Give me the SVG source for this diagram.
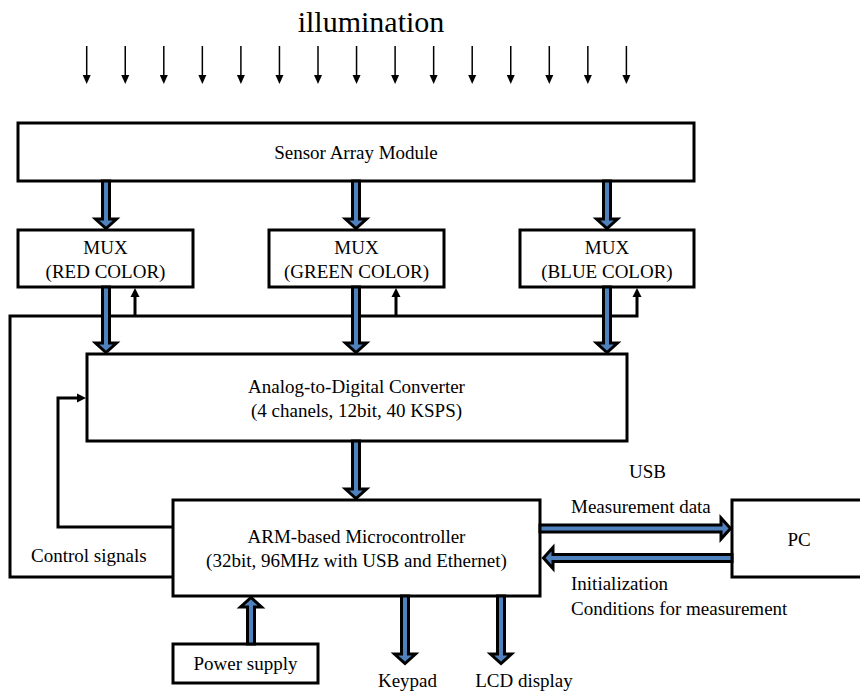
<svg xmlns="http://www.w3.org/2000/svg" xmlns:xlink="http://www.w3.org/1999/xlink" width="860" height="691" viewBox="0 0 860 691">
<style>
  .box { fill: #ffffff; stroke: #000000; stroke-width: 3; }
  .t { font-family: 'Liberation Serif', 'DejaVu Serif', serif; font-size: 19px; fill: #000000; }
  .c { text-anchor: middle; }
  .big { font-size: 30px; }
  .fat { fill: #4F81BD; stroke: #000000; stroke-width: 3; stroke-linejoin: miter; }
  .thin { fill: none; stroke: #000000; stroke-width: 3; stroke-linejoin: miter; }
  .head { fill: #000000; stroke: none; }
  .ill { stroke: #000000; stroke-width: 1.5; }
</style>
<defs>
  <g id="illArrow">
    <line class="ill" x1="0" y1="46" x2="0" y2="78"/>
    <path class="head" d="M-4,75 L0,84 L4,75 Z"/>
  </g>
</defs>
<rect width="860" height="691" fill="#ffffff"/>

<g id="illumination">
  <text class="t c big" x="371" y="32">illumination</text>
  <use xlink:href="#illArrow" x="86.7"/>
  <use xlink:href="#illArrow" x="125.25"/>
  <use xlink:href="#illArrow" x="163.8"/>
  <use xlink:href="#illArrow" x="202.35"/>
  <use xlink:href="#illArrow" x="240.9"/>
  <use xlink:href="#illArrow" x="279.45"/>
  <use xlink:href="#illArrow" x="318"/>
  <use xlink:href="#illArrow" x="356.55"/>
  <use xlink:href="#illArrow" x="395.1"/>
  <use xlink:href="#illArrow" x="433.65"/>
  <use xlink:href="#illArrow" x="472.2"/>
  <use xlink:href="#illArrow" x="510.75"/>
  <use xlink:href="#illArrow" x="549.3"/>
  <use xlink:href="#illArrow" x="587.85"/>
  <use xlink:href="#illArrow" x="626.4"/>
</g>

<g id="sensor">
  <rect class="box" x="18" y="123" width="676" height="58"/>
  <text class="t c" x="356" y="159">Sensor Array Module</text>
</g>

<g id="mux-red">
  <rect class="box" x="18" y="230" width="175" height="57"/>
  <text class="t c" x="105.5" y="254">MUX</text>
  <text class="t c" x="105.5" y="278">(RED COLOR)</text>
</g>

<g id="mux-green">
  <rect class="box" x="269" y="230" width="175" height="57"/>
  <text class="t c" x="356.5" y="254">MUX</text>
  <text class="t c" x="356.5" y="278">(GREEN COLOR)</text>
</g>

<g id="mux-blue">
  <rect class="box" x="520" y="230" width="174" height="57"/>
  <text class="t c" x="607" y="254">MUX</text>
  <text class="t c" x="607" y="278">(BLUE COLOR)</text>
</g>

<g id="adc">
  <rect class="box" x="87" y="354" width="540" height="87"/>
  <text class="t c" x="356.5" y="393">Analog-to-Digital Converter</text>
  <text class="t c" x="356.5" y="417">(4 chanels, 12bit, 40 KSPS)</text>
</g>

<g id="mcu">
  <rect class="box" x="173" y="500" width="367" height="96"/>
  <text class="t c" x="356.5" y="543">ARM-based Microcontroller</text>
  <text class="t c" x="356.5" y="567">(32bit, 96MHz with USB and Ethernet)</text>
</g>

<g id="pc">
  <rect class="box" x="732" y="500" width="140" height="77"/>
  <text class="t c" x="799" y="546">PC</text>
</g>

<g id="power">
  <rect class="box" x="173" y="644" width="145" height="39"/>
  <text class="t c" x="245.5" y="670">Power supply</text>
</g>

<g id="keypad">
  <text class="t c" x="407.5" y="687">Keypad</text>
</g>

<g id="lcd">
  <text class="t c" x="524" y="687">LCD display</text>
</g>

<g id="connectors">
  <path class="thin" d="M173,577 H10 V316 H637 V296"/>
  <path class="thin" d="M135,316 V296"/>
  <path class="thin" d="M396,316 V296"/>
  <path class="head" d="M130.5,297 L135,288 L139.5,297 Z"/>
  <path class="head" d="M391.5,297 L396,288 L400.5,297 Z"/>
  <path class="head" d="M632.5,297 L637,288 L641.5,297 Z"/>
  <path class="thin" d="M173,527 H58 V398 H78"/>
  <path class="head" d="M77,393.5 L86,398 L77,402.5 Z"/>

  <path class="fat" d="M102.5,181 H109.5 V219 H116.5 L106,228.5 L95.5,219 H102.5 Z"/>
  <path class="fat" d="M352.5,181 H359.5 V219 H366.5 L356,228.5 L345.5,219 H352.5 Z"/>
  <path class="fat" d="M603.5,181 H610.5 V219 H617.5 L607,228.5 L596.5,219 H603.5 Z"/>
  <path class="fat" d="M102.5,287 H109.5 V343 H116.5 L106,352.5 L95.5,343 H102.5 Z"/>
  <path class="fat" d="M352.5,287 H359.5 V343 H366.5 L356,352.5 L345.5,343 H352.5 Z"/>
  <path class="fat" d="M603.5,287 H610.5 V343 H617.5 L607,352.5 L596.5,343 H603.5 Z"/>
  <path class="fat" d="M352.5,441 H359.5 V489 H366.5 L356,498.5 L345.5,489 H352.5 Z"/>
  <path class="fat" d="M401.5,596 H408.5 V654 H415.5 L405,663.5 L394.5,654 H401.5 Z"/>
  <path class="fat" d="M497.5,596 H504.5 V654 H511.5 L501,663.5 L490.5,654 H497.5 Z"/>
  <path class="fat" d="M247.5,644 H254.5 V607 H261.5 L251,597.5 L240.5,607 H247.5 Z"/>
  <path class="fat" d="M540,525 V532 H721 V539 L730.5,528.5 L721,518 V525 Z"/>
  <path class="fat" d="M732,554.5 V561.5 H553 V568.5 L543.5,558 L553,547.5 V554.5 Z"/>

  <text class="t" x="31" y="562">Control signals</text>
  <text class="t c" x="647.5" y="478">USB</text>
  <text class="t" x="571" y="513">Measurement data</text>
  <text class="t" x="571" y="590">Initialization</text>
  <text class="t" x="571" y="615">Conditions for measurement</text>
</g>
</svg>
